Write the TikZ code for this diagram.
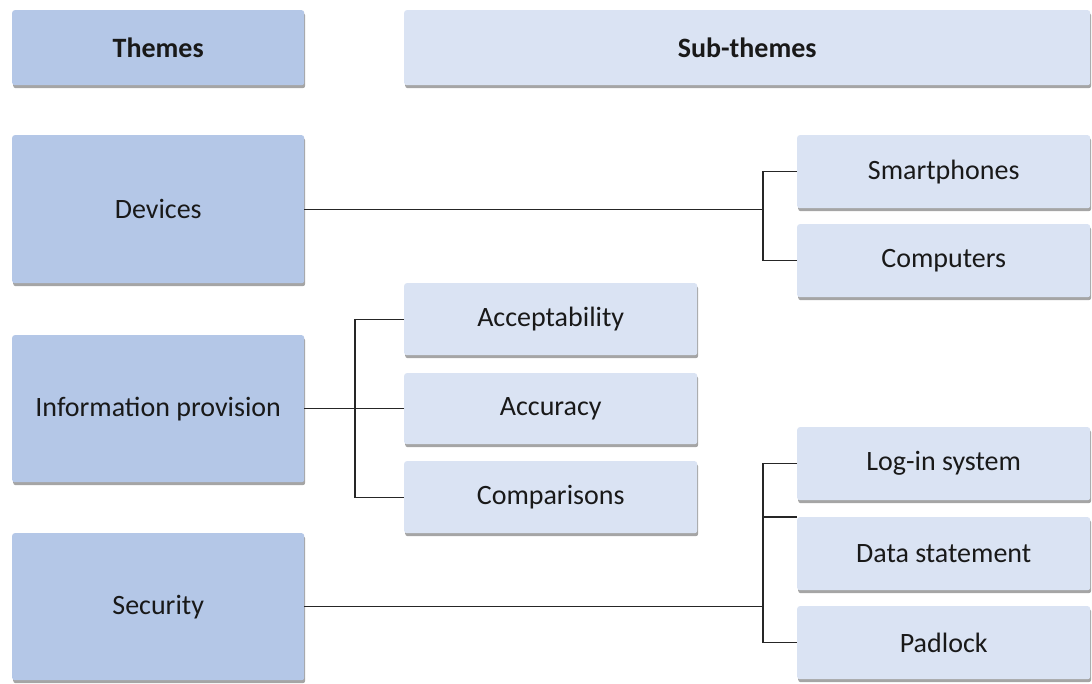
\documentclass[tikz,border=0pt]{standalone}
\usepackage{fontspec}
\setmainfont{Carlito}
\usetikzlibrary{shadows}
\definecolor{themefill}{HTML}{B4C7E7}
\definecolor{subfill}{HTML}{DAE3F3}
\tikzset{
  box/.style={rectangle, rounded corners=2.5pt, anchor=north west, inner sep=0pt,
    font=\fontsize{28}{32}\selectfont, text=black!90,
    drop shadow={shadow xshift=1pt, shadow yshift=-3pt, opacity=0.5, fill=black!70}},
  themebox/.style={box, fill=themefill, minimum width=292pt},
  subbox/.style={box, fill=subfill, minimum width=293pt, minimum height=73pt},
  link/.style={draw=black!85, line width=1.2pt}
}
\begin{document}
\begin{tikzpicture}[x=1pt,y=-1pt]
\useasboundingbox (0,0) rectangle (1092,684);
% header row
\node[themebox, minimum height=75pt, font=\fontsize{28}{32}\selectfont\bfseries] (hthemes) at (12,10) {Themes};
\node[box, fill=subfill, minimum width=686pt, minimum height=75pt, font=\fontsize{28}{32}\selectfont\bfseries] (hsub) at (404,10) {Sub-themes};
% themes
\node[themebox, minimum height=148pt] (dev) at (12,135) {Devices};
\node[themebox, minimum height=147pt] (info) at (12,335) {Information provision};
\node[themebox, minimum height=147pt] (sec) at (12,533) {Security};
% sub-themes
\node[subbox] (smart) at (797,135) {Smartphones};
\node[subbox] (comp) at (797,224) {Computers};
\node[subbox, minimum height=72pt] (acc) at (404,283) {Acceptability};
\node[subbox, minimum height=71pt] (accu) at (404,373) {Accuracy};
\node[subbox, minimum height=72pt] (cmp) at (404,461) {Comparisons};
\node[subbox] (login) at (797,427) {Log-in system};
\node[subbox] (data) at (797,517) {Data statement};
\node[subbox] (pad) at (797,606) {Padlock};
% junction columns
\coordinate (jright) at (763,0);
\coordinate (jmid) at (355,0);
% Devices
\draw[link] (dev.east) -- (dev.east -| jright);
\draw[link] (smart.west) -- (smart.west -| jright) |- (comp.west);
% Information provision
\draw[link] (info.east) -- (info.east -| jmid);
\draw[link] (acc.west) -- (acc.west -| jmid) |- (cmp.west);
\draw[link] (accu.west) -- (accu.west -| jmid);
% Security
\draw[link] (sec.east) -- (sec.east -| jright);
\draw[link] (login.west) -- (login.west -| jright) |- (pad.west);
\draw[link] (data.north west) -- (data.north west -| jright);
\end{tikzpicture}
\end{document}
